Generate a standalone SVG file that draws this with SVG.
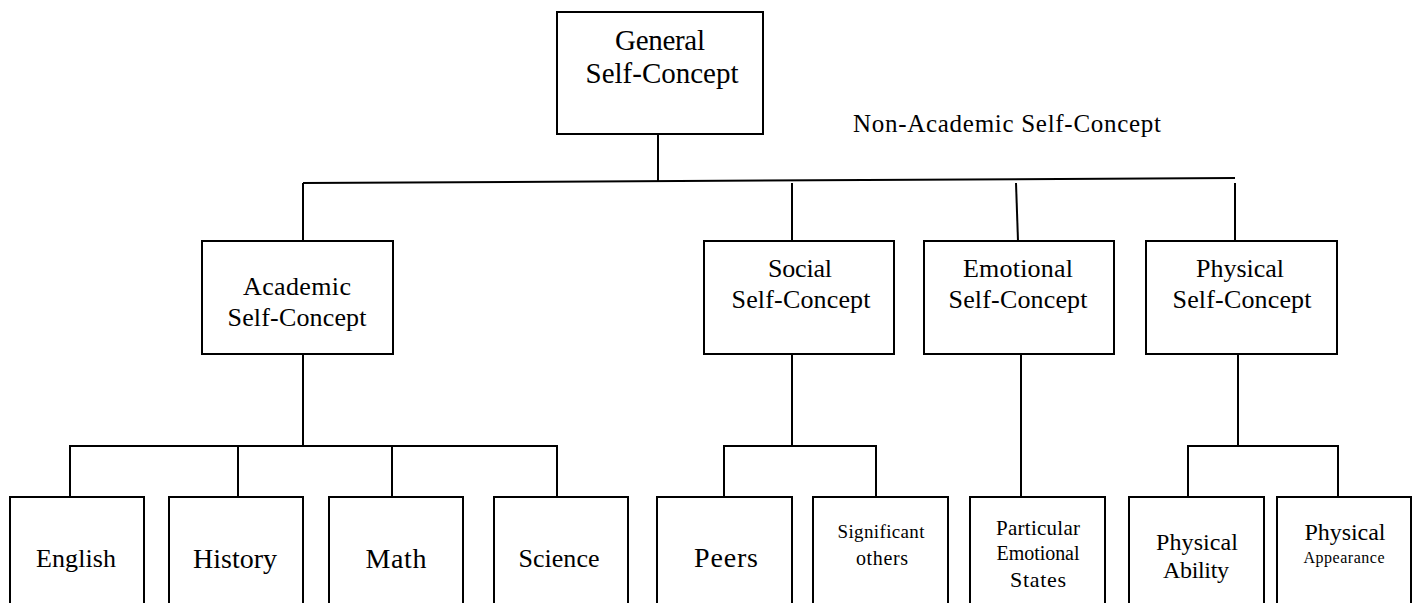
<svg xmlns="http://www.w3.org/2000/svg" width="1414" height="603" viewBox="0 0 1414 603" font-family="Liberation Serif, Times New Roman, serif">
<style>
.box{fill:#fff;stroke:#000;stroke-width:2}
.ln{fill:none;stroke:#000;stroke-width:2}
.t{fill:#000;text-anchor:middle}
</style>
<rect width="1414" height="603" fill="#fff"/>
<g id="connectors">
<line class="ln" x1="658" y1="134" x2="658" y2="182"/>
<line class="ln" x1="303" y1="183" x2="1235" y2="178"/>
<line class="ln" x1="303" y1="183" x2="303" y2="241"/>
<line class="ln" x1="792" y1="183" x2="792" y2="241"/>
<line class="ln" x1="1016" y1="183" x2="1018" y2="241"/>
<line class="ln" x1="1235" y1="183" x2="1235" y2="241"/>
<line class="ln" x1="303" y1="354" x2="303" y2="446"/>
<polyline class="ln" points="70,497 70,446 557,446 557,497"/>
<line class="ln" x1="238" y1="446" x2="238" y2="497"/>
<line class="ln" x1="392" y1="446" x2="392" y2="497"/>
<line class="ln" x1="792" y1="354" x2="792" y2="446"/>
<polyline class="ln" points="724,497 724,446 876,446 876,497"/>
<line class="ln" x1="1021" y1="354" x2="1021" y2="497"/>
<line class="ln" x1="1238" y1="354" x2="1238" y2="446"/>
<polyline class="ln" points="1188,497 1188,446 1338,446 1338,497"/>
</g>
<g id="general"><rect class="box" x="557" y="12" width="206" height="122"/>
<text class="t" x="660" y="50" font-size="29" textLength="90">General</text>
<text class="t" x="662" y="83" font-size="29" textLength="153">Self-Concept</text></g>
<g id="nonacademic"><text class="t" x="1007" y="132" font-size="25" textLength="308">Non-Academic Self-Concept</text></g>
<g id="academic"><rect class="box" x="202" y="241" width="191" height="113"/>
<text class="t" x="297" y="295" font-size="26" textLength="108">Academic</text>
<text class="t" x="297" y="326" font-size="26" textLength="139">Self-Concept</text></g>
<g id="social"><rect class="box" x="704" y="241" width="190" height="113"/>
<text class="t" x="800" y="277" font-size="26" textLength="64">Social</text>
<text class="t" x="801" y="308" font-size="26" textLength="139">Self-Concept</text></g>
<g id="emotional"><rect class="box" x="924" y="241" width="190" height="113"/>
<text class="t" x="1018" y="277" font-size="26" textLength="110">Emotional</text>
<text class="t" x="1018" y="308" font-size="26" textLength="139">Self-Concept</text></g>
<g id="physical"><rect class="box" x="1146" y="241" width="191" height="113"/>
<text class="t" x="1240" y="277" font-size="26" textLength="88">Physical</text>
<text class="t" x="1242" y="308" font-size="26" textLength="139">Self-Concept</text></g>
<g id="english"><rect class="box" x="10" y="497" width="134" height="130"/>
<text class="t" x="76" y="567" font-size="26" textLength="80">English</text></g>
<g id="history"><rect class="box" x="169" y="497" width="134" height="130"/>
<text class="t" x="235" y="568" font-size="28" textLength="84">History</text></g>
<g id="math"><rect class="box" x="329" y="497" width="134" height="130"/>
<text class="t" x="396" y="568" font-size="28" textLength="61">Math</text></g>
<g id="science"><rect class="box" x="494" y="497" width="134" height="130"/>
<text class="t" x="559" y="567" font-size="26" textLength="81">Science</text></g>
<g id="peers"><rect class="box" x="657" y="497" width="135" height="130"/>
<text class="t" x="726" y="567" font-size="28" textLength="64">Peers</text></g>
<g id="significant"><rect class="box" x="813" y="497" width="135" height="130"/>
<text class="t" x="881" y="538" font-size="19" textLength="87">Significant</text>
<text class="t" x="882" y="565" font-size="20" textLength="52">others</text></g>
<g id="particular"><rect class="box" x="970" y="497" width="135" height="130"/>
<text class="t" x="1038" y="535" font-size="21" textLength="84">Particular</text>
<text class="t" x="1038" y="560" font-size="20" textLength="83">Emotional</text>
<text class="t" x="1038" y="587" font-size="22" textLength="56">States</text></g>
<g id="ability"><rect class="box" x="1129" y="497" width="135" height="130"/>
<text class="t" x="1197" y="550" font-size="24" textLength="82">Physical</text>
<text class="t" x="1196" y="578" font-size="24" textLength="66">Ability</text></g>
<g id="appearance"><rect class="box" x="1277" y="497" width="134" height="130"/>
<text class="t" x="1345" y="540" font-size="24" textLength="81">Physical</text>
<text class="t" x="1344" y="563" font-size="16" textLength="81">Appearance</text></g>
</svg>
